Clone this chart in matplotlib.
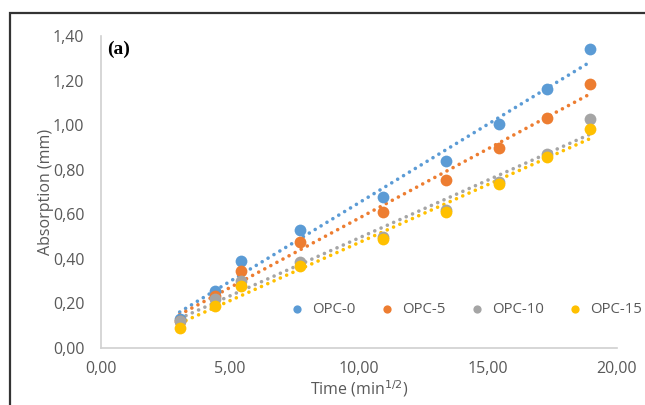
import numpy as np
import matplotlib.pyplot as plt
from matplotlib.patches import Rectangle

time_sqrt = [3.05, 4.42, 5.43, 7.72, 10.93, 13.37, 15.43, 17.29, 18.95]

opc_0 = [0.13, 0.255, 0.39, 0.53, 0.678, 0.839, 1.005, 1.162, 1.342]
opc_5 = [0.12, 0.235, 0.345, 0.476, 0.61, 0.754, 0.897, 1.032, 1.185]
opc_10 = [0.12, 0.22, 0.30, 0.385, 0.50, 0.62, 0.745, 0.87, 1.028]
opc_15 = [0.09, 0.19, 0.278, 0.37, 0.49, 0.61, 0.735, 0.855, 0.983]

series_names = ["OPC-0", "OPC-5", "OPC-10", "OPC-15"]
colors = ["#5B9BD5", "#ED7D31", "#A5A5A5", "#FFC000"]

x_ticks = [0, 5, 10, 15, 20]
y_ticks = [0, 0.2, 0.4, 0.6, 0.8, 1.0, 1.2, 1.4]

plt.rcParams["font.family"] = ["Open Sans", "DejaVu Sans"]

fig = plt.figure(figsize=(6.45, 4.05), dpi=100)
ax = fig.add_axes([0.1566, 0.1407, 0.80, 0.7703])

x = np.array(time_sqrt)
for name, vals, c in zip(series_names, [opc_0, opc_5, opc_10, opc_15], colors):
    ax.scatter(x, vals, s=72, color=c, label=name, zorder=3, linewidths=0)
    # linear trendline, like Excel
    k, b = np.polyfit(x, vals, 1)
    xs = np.array([x.min(), x.max()])
    ax.plot(xs, k * xs + b, color=c, linestyle=(0, (0.01, 1.9)),
            linewidth=2.6, dash_capstyle="round", zorder=2)

ax.set_xlim(0, 20)
ax.set_ylim(0, 1.4)
ax.set_xticks(x_ticks)
ax.set_yticks(y_ticks)
ax.set_xticklabels([f"{v:.2f}".replace(".", ",") for v in x_ticks])
ax.set_yticklabels([f"{v:.2f}".replace(".", ",") for v in y_ticks])
ax.tick_params(length=0, labelsize=11.5, colors="#595959")
ax.tick_params(axis="y", pad=12)
ax.tick_params(axis="x", pad=9)

for side in ["top", "right"]:
    ax.spines[side].set_visible(False)
for side in ["left", "bottom"]:
    ax.spines[side].set_color("#D0D0D0")
    ax.spines[side].set_linewidth(1.2)

ax.set_xlabel("Time (min$^{1/2}$)", fontsize=11.5, color="#595959", labelpad=1.5)
ax.set_ylabel("Absorption (mm)", fontsize=11.5, color="#595959", labelpad=-1)

ax.text(0.012, 0.985, "(a)", transform=ax.transAxes, fontsize=14,
        fontweight="bold", family="Liberation Serif", va="top")

ax.legend(loc="lower right", ncol=4, frameon=False, fontsize=10.8,
          handletextpad=0.0, columnspacing=1.1, markerscale=0.7,
          labelcolor="#595959", bbox_to_anchor=(1.075, 0.055))

# border from the original figure frame
fig.patches.append(Rectangle((10 / 645, -0.05), 1.0, 1 - 13 / 405 + 0.05,
                             transform=fig.transFigure, fill=False,
                             edgecolor="#333333", linewidth=1.6))

fig.savefig("out.png", dpi=100)
